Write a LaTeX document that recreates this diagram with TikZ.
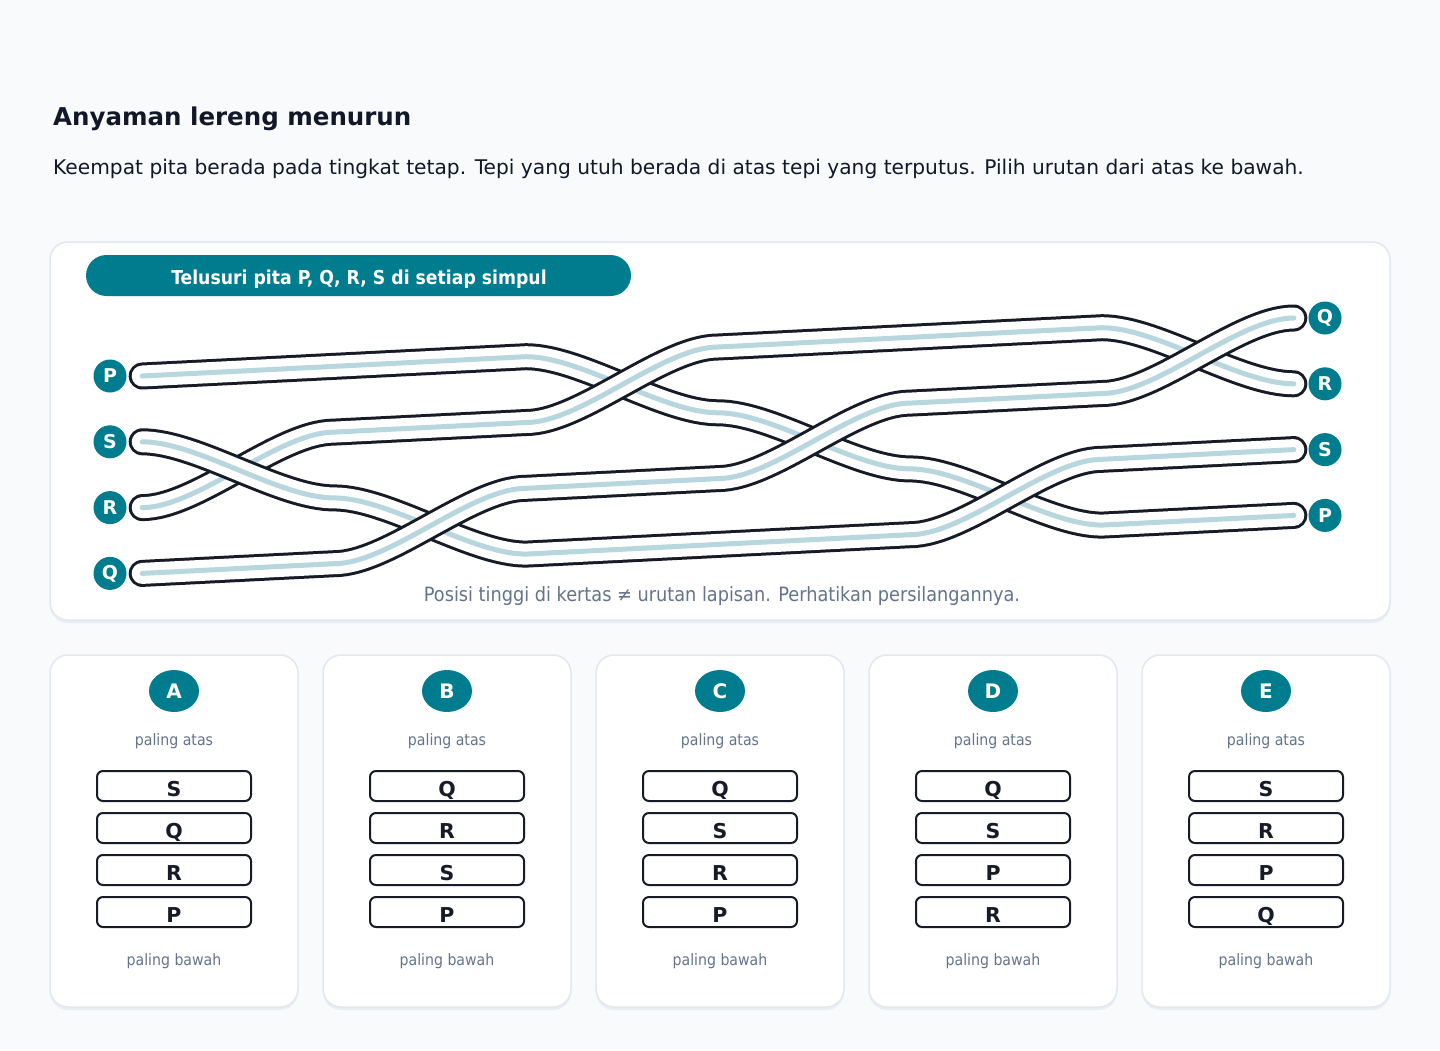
\documentclass[tikz,border=0pt]{standalone}
\usepackage{fontspec}
\setmainfont{DejaVu Sans}
\newfontfamily\sempit{DejaVu Sans Condensed}
\usetikzlibrary{shapes.geometric}
\definecolor{latar}{HTML}{F8FAFC}
\definecolor{garis}{HTML}{E2E8F0}
\definecolor{bayang}{HTML}{E9EEF3}
\definecolor{tosca}{HTML}{007C8F}
\definecolor{tinta}{HTML}{161B26}
\definecolor{tali}{HTML}{B7D6DD}
\definecolor{abu}{HTML}{64748B}
\definecolor{judul}{HTML}{111827}
\tikzstyle{panel} = [rectangle, rounded corners=18pt, draw=garis, line width=1.5pt, fill=white]
\tikzstyle{ujung} = [circle, fill=tosca, text=white, minimum size=33pt, inner sep=0pt, font=\bfseries\fontsize{19}{20}\selectfont]
\tikzstyle{pita} = [draw=white, line width=21pt, line cap=round, line join=round,
    preaction={draw=tinta, line width=27pt, line cap=round, line join=round},
    postaction={draw=tali, line width=5pt, line cap=round, line join=round}]
\tikzstyle{opsi} = [ellipse, fill=tosca, text=white, minimum width=50pt, minimum height=42pt, inner sep=0pt, font=\bfseries\fontsize{20}{20}\selectfont]
\tikzstyle{kotak} = [rectangle, rounded corners=6pt, draw=tinta, line width=2pt, fill=white, minimum width=154pt, minimum height=30pt]
\tikzstyle{isi} = [anchor=base, inner sep=0pt, text=tinta, font=\bfseries\fontsize{20.5}{21}\selectfont]
\tikzstyle{ket} = [text=abu, font=\sempit\fontsize{15.7}{18}\selectfont]

\begin{document}
\begin{tikzpicture}[x=1pt, y=-1pt]
        \fill [latar] (0,0) rectangle (1440,1050);
        \useasboundingbox (0,0) rectangle (1440,1050);
        \node [anchor=base west, inner sep=0pt, text=judul, font=\bfseries\fontsize{24.5}{29}\selectfont] at (53,125.5) (judul) {Anyaman lereng menurun};
        \node [anchor=base west, inner sep=0pt, text=judul, font=\fontsize{20.2}{24}\selectfont] at (53,174) (soal) {Keempat pita berada pada tingkat tetap. Tepi yang utuh berada di atas tepi yang terputus. Pilih urutan dari atas ke bawah.};
        % panel pita
        \fill [bayang, rounded corners=18pt] (50,245) rectangle (1390,623);
        \node [panel, minimum width=1340pt, minimum height=378pt] at (720,431) (papan) {};
        \fill [tosca, rounded corners=20.5pt] (86,255) rectangle (631,296);
        \node [anchor=base, inner sep=0pt, text=white, font=\sempit\bfseries\fontsize{19.2}{20}\selectfont] at (359,284) (spanduk) {Telusuri pita P, Q, R, S di setiap simpul};
        \node [ujung] at (110,376) (pl) {P};
        \node [ujung] at (110,441.8) (sl) {S};
        \node [ujung] at (110,507.6) (rl) {R};
        \node [ujung] at (110,573.4) (ql) {Q};
        \node [ujung] at (1325,318) (qr) {Q};
        \node [ujung] at (1325,383.8) (rr) {R};
        \node [ujung] at (1325,449.6) (sr) {S};
        \node [ujung] at (1325,515.4) (pr) {P};
        % urutan gambar: P, R, S, Q
        \draw [pita] ([xshift=15.5pt]pl.east) -- (526,356.7)
            .. controls +(55,0) and +(-55,0) .. (718,412.8)
            .. controls +(55,0) and +(-55,0) .. (910,468.9)
            .. controls +(55,0) and +(-55,0) .. (1102,525.1) -- ([xshift=-14.5pt]pr.west);
        \draw [pita] ([xshift=15.5pt]rl.east)
            .. controls +(55,0) and +(-55,0) .. (334,432.1) -- (526,422.5)
            .. controls +(55,0) and +(-55,0) .. (718,347.0) -- (1102,327.7)
            .. controls +(55,0) and +(-55,0) .. ([xshift=-14.5pt]rr.west);
        \draw [pita] ([xshift=15.5pt]sl.east)
            .. controls +(55,0) and +(-55,0) .. (334,497.9)
            .. controls +(55,0) and +(-55,0) .. (526,554.1) -- (910,534.7)
            .. controls +(55,0) and +(-55,0) .. (1102,459.3) -- ([xshift=-14.5pt]sr.west);
        \draw [pita] ([xshift=15.5pt]ql.east) -- (334,563.7)
            .. controls +(55,0) and +(-55,0) .. (526,488.3) -- (718,478.6)
            .. controls +(55,0) and +(-55,0) .. (910,403.1) -- (1102,393.5)
            .. controls +(55,0) and +(-55,0) .. ([xshift=-14.5pt]qr.west);
        \node [anchor=base, inner sep=0pt, text=abu, font=\sempit\fontsize{19.7}{22}\selectfont] at (722,601.5) (catatan) {Posisi tinggi di kertas ≠ urutan lapisan. Perhatikan persilangannya.};
        % kartu pilihan
        \foreach \n/\a/\b/\c/\d [count=\i from 0] in {A/S/Q/R/P, B/Q/R/S/P, C/Q/S/R/P, D/Q/S/P/R, E/S/R/P/Q} {
            \pgfmathsetmacro\cx{174+273*\i}
            \fill [bayang, rounded corners=18pt] (\cx-124,658) rectangle (\cx+124,1010);
            \node [panel, minimum width=248pt, minimum height=352pt] at (\cx,831) (kartu\n) {};
            \node [opsi] at (\cx,691) (opsi\n) {\n};
            \node [ket] at (\cx,741) (atas\n) {paling atas};
            \node [kotak] at (\cx,786) (k1\n) {};
            \node [kotak] at (\cx,828) (k2\n) {};
            \node [kotak] at (\cx,870) (k3\n) {};
            \node [kotak] at (\cx,912) (k4\n) {};
            \node [isi] at (\cx,796.5) {\a};
            \node [isi] at (\cx,838.5) {\b};
            \node [isi] at (\cx,880.5) {\c};
            \node [isi] at (\cx,922.5) {\d};
            \node [ket] at (\cx,961) (bawah\n) {paling bawah};
        }
        \end{tikzpicture}
\end{document}
